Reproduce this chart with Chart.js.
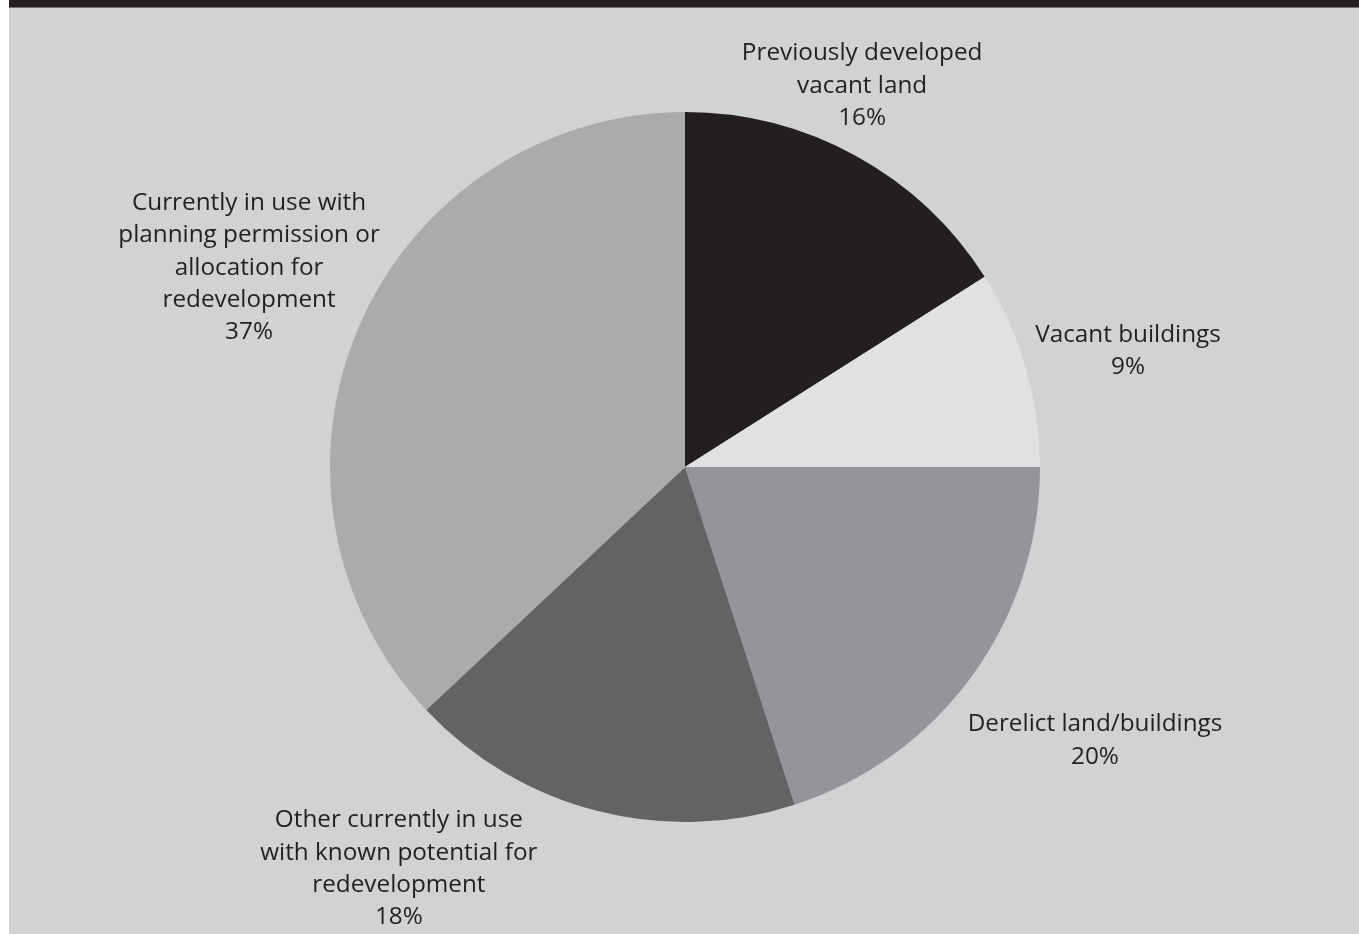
<!DOCTYPE html>
<html>
<head>
<meta charset="utf-8">
<script src="https://cdn.jsdelivr.net/npm/chart.js@4/dist/chart.umd.min.js"></script>
<style>
  html, body { margin: 0; padding: 0; background: #ffffff; }
  #page { position: absolute; left: 9px; top: 0; width: 1350px; height: 934px; background: #d1d2d4; }
  #bar { position: absolute; left: 0; top: 0; width: 1350px; height: 7px; background: #231f20; border-bottom: 1px solid #6d6e70; }
  #wrap { position: absolute; left: 0; top: 0; width: 1359px; height: 934px; }
</style>
</head>
<body>
<div id="page"><div id="bar"></div></div>
<div id="wrap"><canvas id="c" width="1359" height="934"></canvas></div>
<script>
const categories = [
  ["Previously developed", "vacant land"],
  ["Vacant buildings"],
  ["Derelict land/buildings"],
  ["Other currently in use", "with known potential for", "redevelopment"],
  ["Currently in use with", "planning permission or", "allocation for", "redevelopment"]
];
const shares = [16, 9, 20, 18, 37];
const sliceColors = ["#231f20", "#e0e1e2", "#939598", "#636365", "#aaabad"];
// label anchor offsets, in units of the pie radius, relative to the pie centre
const labelOffsets = [[0.499, -1.074], [1.248, -0.327], [1.155, 0.771], [-0.806, 1.132], [-1.228, -0.561]];

const labelPlugin = {
  id: 'sliceLabels',
  afterDatasetsDraw(chart) {
    const ctx = chart.ctx;
    const meta = chart.getDatasetMeta(0);
    ctx.save();
    ctx.font = '24.3px "Open Sans"';
    ctx.fillStyle = '#231f20';
    ctx.textAlign = 'center';
    ctx.textBaseline = 'middle';
    const lh = 32.3;
    meta.data.forEach((arc, i) => {
      const r = arc.outerRadius;
      const cx = arc.x + labelOffsets[i][0] * r;
      const cy = arc.y + labelOffsets[i][1] * r;
      const lines = categories[i].concat([shares[i] + '%']);
      const n = lines.length;
      lines.forEach((t, j) => {
        ctx.fillText(t, cx, cy + (j - (n - 1) / 2) * lh);
      });
    });
    ctx.restore();
  }
};

new Chart(document.getElementById('c'), {
  type: 'pie',
  data: {
    labels: categories.map(l => l.join(' ')),
    datasets: [{
      data: shares,
      backgroundColor: sliceColors,
      borderWidth: 0
    }]
  },
  options: {
    responsive: false,
    animation: false,
    rotation: 0,
    layout: { padding: { left: 15, right: 4, top: 112, bottom: 112 } },
    plugins: { legend: { display: false }, tooltip: { enabled: false } }
  },
  plugins: [labelPlugin]
});
</script>
</body>
</html>
